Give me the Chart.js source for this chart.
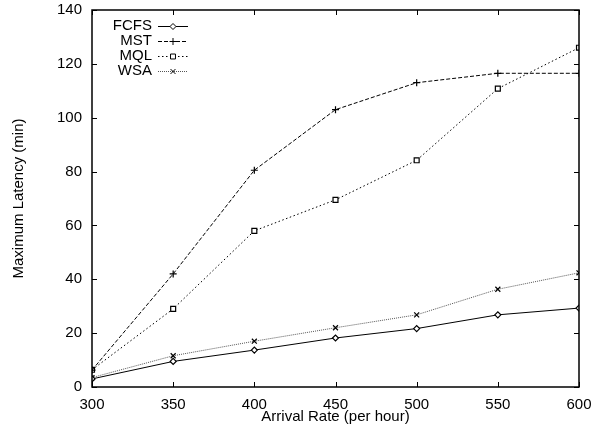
<!DOCTYPE html>
<html>
<head>
<meta charset="utf-8">
<title>Maximum Latency vs Arrival Rate</title>
<script src="https://cdn.jsdelivr.net/npm/chart.js@4/dist/chart.umd.min.js"></script>
<style>
  html, body { margin: 0; padding: 0; background: #fff; }
  canvas { display: block; }
</style>
</head>
<body>
<canvas id="latency" width="598" height="425"></canvas>
<script>
// arrival rate (per hour) and max latency (min) per scheduler
const rates = [300, 350, 400, 450, 500, 550, 600];
const fcfs = [3.0, 9.5, 13.7, 18.2, 21.7, 26.8, 29.3];
const mst = [6.3, 42.0, 80.5, 103.0, 113.0, 116.5, 116.5];
const mql = [6.4, 29.0, 58.0, 69.5, 84.2, 110.8, 126.0];
const wsa = [3.5, 11.6, 17.0, 22.0, 26.8, 36.3, 42.4];
const xTicks = [300, 350, 400, 450, 500, 550, 600];
const yTicks = [0, 20, 40, 60, 80, 100, 120, 140];

const FONT = { family: "'Liberation Sans', Arial, Helvetica, sans-serif", size: 15 };

const toPoints = vals => vals.map((v, i) => ({ x: rates[i], y: v }));

function series(label, vals, style) {
    return Object.assign({
        label: label,
        data: toPoints(vals),
        borderColor: '#000',
        borderWidth: 1,
        pointBorderColor: '#000',
        pointBackgroundColor: '#fff',
        pointBorderWidth: 1.2,
        tension: 0,
        fill: false
    }, style);
}

const datasets = [
    series('FCFS', fcfs, { pointStyle: 'rectRot', pointRadius: 3 }),
    series('MST', mst, { borderDash: [4, 2], pointStyle: 'cross', pointRadius: 3.5 }),
    series('MQL', mql, { borderDash: [1.5, 2.5], pointStyle: 'rect', pointRadius: 3.5 }),
    series('WSA', wsa, { borderDash: [1, 1], borderColor: '#555', pointStyle: 'crossRot', pointRadius: 3.5 })
];

// fixed axis box sizes, no extra room for overhanging labels
function fixBox(w, h) {
    return scale => {
        if (w !== null) scale.width = w;
        if (h !== null) scale.height = h;
        scale.paddingTop = 0;
        scale.paddingBottom = 0;
        scale.paddingLeft = 0;
        scale.paddingRight = 0;
    };
}

// gnuplot style frame: full box with inward ticks on all sides
const framePlugin = {
    id: 'frame',
    afterDatasetsDraw(chart) {
        const { ctx, chartArea: a, scales } = chart;
        const len = 5;
        ctx.save();
        ctx.strokeStyle = '#000';
        ctx.lineWidth = 1;
        ctx.beginPath();
        xTicks.forEach(v => {
            const x = Math.round(scales.x.getPixelForValue(v)) + 0.5;
            ctx.moveTo(x, a.bottom); ctx.lineTo(x, a.bottom - len);
            ctx.moveTo(x, a.top); ctx.lineTo(x, a.top + len);
        });
        yTicks.forEach(v => {
            const y = Math.round(scales.y.getPixelForValue(v)) + 0.5;
            ctx.moveTo(a.left, y); ctx.lineTo(a.left + len, y);
            ctx.moveTo(a.right, y); ctx.lineTo(a.right - len, y);
        });
        ctx.stroke();
        ctx.lineWidth = 1.5;
        ctx.strokeRect(a.left, a.top, a.right - a.left, a.bottom - a.top);
        ctx.restore();
    }
};

// key in the top left: right aligned names followed by a line sample
const keyPlugin = {
    id: 'key',
    afterDatasetsDraw(chart) {
        const ctx = chart.ctx;
        const textRight = 152, x0 = 158, x1 = 188, y0 = 26, step = 15;
        ctx.save();
        ctx.font = `${FONT.size}px ${FONT.family}`;
        ctx.textAlign = 'right';
        ctx.textBaseline = 'middle';
        chart.data.datasets.forEach((ds, i) => {
            const y = y0 + i * step;
            ctx.fillStyle = '#000';
            ctx.fillText(ds.label, textRight, y);
            ctx.beginPath();
            ctx.strokeStyle = ds.borderColor;
            ctx.lineWidth = ds.borderWidth;
            ctx.setLineDash(ds.borderDash || []);
            ctx.moveTo(x0, y + 0.5);
            ctx.lineTo(x1, y + 0.5);
            ctx.stroke();
            ctx.setLineDash([]);
            ctx.strokeStyle = ds.pointBorderColor;
            ctx.fillStyle = ds.pointBackgroundColor;
            Chart.helpers.drawPoint(ctx, {
                pointStyle: ds.pointStyle,
                radius: ds.pointRadius,
                borderWidth: ds.pointBorderWidth,
                rotation: 0
            }, (x0 + x1) / 2, y + 0.5);
        });
        ctx.restore();
    }
};

new Chart(document.getElementById('latency'), {
    type: 'line',
    data: { datasets: datasets },
    options: {
        responsive: false,
        animation: false,
        devicePixelRatio: 1,
        layout: { padding: { top: 10, right: 19, left: 0, bottom: 0 } },
        plugins: { legend: { display: false }, tooltip: { enabled: false } },
        scales: {
            x: {
                type: 'linear',
                min: 300,
                max: 600,
                afterFit: fixBox(null, 38),
                afterBuildTicks(scale) { scale.ticks = xTicks.map(v => ({ value: v })); },
                grid: { display: false, drawTicks: false },
                border: { display: false },
                ticks: { color: '#000', font: FONT, padding: 9, maxRotation: 0 },
                title: {
                    display: true,
                    text: 'Arrival Rate (per hour)',
                    color: '#000',
                    font: FONT,
                    padding: { top: 0, bottom: -1 }
                }
            },
            y: {
                min: 0,
                max: 140,
                afterFit: fixBox(92, null),
                afterBuildTicks(scale) { scale.ticks = yTicks.map(v => ({ value: v })); },
                grid: { display: false, drawTicks: false },
                border: { display: false },
                ticks: { color: '#000', font: FONT, padding: 10 },
                title: {
                    display: true,
                    text: 'Maximum Latency (min)',
                    color: '#000',
                    font: FONT,
                    padding: { top: 10, bottom: 0 }
                }
            }
        }
    },
    plugins: [framePlugin, keyPlugin]
});
</script>
</body>
</html>
